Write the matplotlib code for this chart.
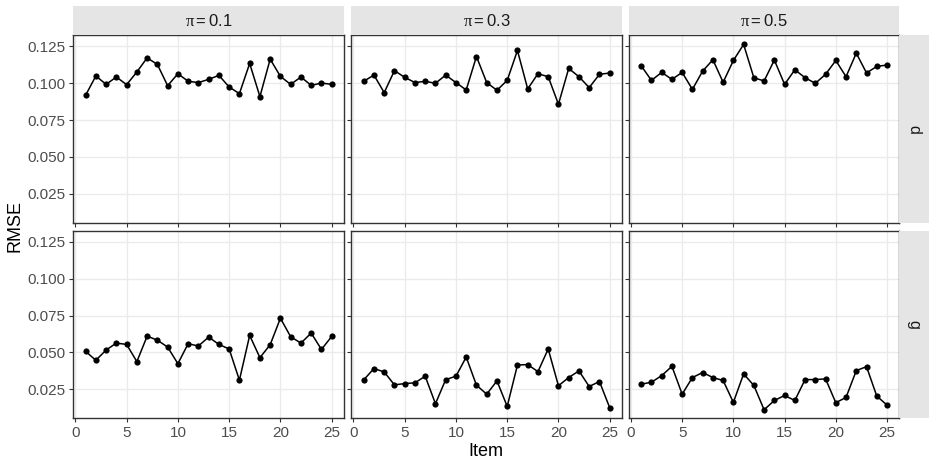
import matplotlib
matplotlib.use("Agg")
import matplotlib.pyplot as plt
import numpy as np

plt.rcParams['font.family'] = ['Liberation Sans', 'DejaVu Sans']
plt.rcParams['mathtext.fontset'] = 'custom'
plt.rcParams['mathtext.rm'] = 'Liberation Sans'
plt.rcParams['mathtext.it'] = 'Liberation Serif'
plt.rcParams['mathtext.bf'] = 'Liberation Sans:bold'

items = np.arange(1, 26)
pi_labels = [r"$\pi = 0.1$", r"$\pi = 0.3$", r"$\pi = 0.5$"]
row_labels = ["d", "g"]

# RMSE values, one list per panel
d_pi01 = [0.0919, 0.1050, 0.0993, 0.1043, 0.0991, 0.1077, 0.1173, 0.1128, 0.0984, 0.1065,
          0.1014, 0.1005, 0.1027, 0.1054, 0.0975, 0.0930, 0.1135, 0.0910, 0.1164, 0.1047,
          0.0993, 0.1043, 0.0986, 0.1002, 0.0993]
d_pi03 = [0.1014, 0.1056, 0.0937, 0.1086, 0.1041, 0.1005, 0.1014, 0.1000, 0.1056, 0.1005,
          0.0955, 0.1182, 0.1005, 0.0953, 0.1020, 0.1223, 0.0962, 0.1065, 0.1045, 0.0858,
          0.1101, 0.1045, 0.0971, 0.1061, 0.1070]
d_pi05 = [0.1119, 0.1020, 0.1074, 0.1027, 0.1074, 0.0959, 0.1083, 0.1160, 0.1007, 0.1155,
          0.1264, 0.1038, 0.1016, 0.1158, 0.0993, 0.1092, 0.1038, 0.1000, 0.1061, 0.1155,
          0.1045, 0.1205, 0.1070, 0.1115, 0.1124]
g_pi01 = [0.0507, 0.0446, 0.0516, 0.0563, 0.0554, 0.0437, 0.0610, 0.0583, 0.0536, 0.0423,
          0.0559, 0.0543, 0.0604, 0.0554, 0.0523, 0.0311, 0.0615, 0.0464, 0.0552, 0.0732,
          0.0606, 0.0563, 0.0631, 0.0520, 0.0608]
g_pi03 = [0.0313, 0.0390, 0.0367, 0.0279, 0.0288, 0.0293, 0.0338, 0.0151, 0.0315, 0.0338,
          0.0468, 0.0277, 0.0216, 0.0306, 0.0133, 0.0414, 0.0417, 0.0369, 0.0523, 0.0273,
          0.0329, 0.0374, 0.0268, 0.0302, 0.0124]
g_pi05 = [0.0284, 0.0297, 0.0342, 0.0405, 0.0216, 0.0329, 0.0363, 0.0329, 0.0309, 0.0160,
          0.0354, 0.0275, 0.0110, 0.0173, 0.0207, 0.0173, 0.0315, 0.0315, 0.0320, 0.0158,
          0.0194, 0.0376, 0.0403, 0.0203, 0.0142]

panels = [[d_pi01, d_pi03, d_pi05], [g_pi01, g_pi03, g_pi05]]

x_ticks = [0, 5, 10, 15, 20, 25]
y_ticks = [0.025, 0.050, 0.075, 0.100, 0.125]

W, H = 935, 463
fig = plt.figure(figsize=(W / 100, H / 100), dpi=100)

col_px = [(73.3, 344.0), (351.4, 622.0), (628.9, 899.3)]
row_px = [(35.0, 223.0), (230.5, 418.3)]
strip_top = 6.0
strip_right = 929.3


def frac(x0, y0, x1, y1):
    # pixel box (top-left origin) -> figure fraction rect
    return [x0 / W, (H - y1) / H, (x1 - x0) / W, (y1 - y0) / H]


for r, (y0, y1) in enumerate(row_px):
    for c, (x0, x1) in enumerate(col_px):
        ax = fig.add_axes(frac(x0, y0, x1, y1))
        ax.plot(items, panels[r][c], color='black', lw=1.1, zorder=3)
        ax.scatter(items, panels[r][c], color='black', s=20, zorder=4, linewidths=0)
        ax.set_xlim(-0.2, 26.2)
        ax.set_ylim(0.0052, 0.1328)
        ax.set_xticks(x_ticks)
        ax.set_yticks(y_ticks)
        ax.grid(True, color='#EBEBEB', lw=1.0, zorder=0)
        ax.set_axisbelow(True)
        for s in ax.spines.values():
            s.set_color('#333333')
            s.set_linewidth(1.0)
        ax.tick_params(length=2.7, width=0.8, color='#333333', labelcolor='#4D4D4D',
                       labelsize=11, pad=3.0)
        if c == 0:
            ax.set_yticklabels([f"{v:.3f}" for v in y_ticks])
        else:
            ax.tick_params(axis='y', labelleft=False)
        if r == 1:
            ax.set_xticklabels([str(v) for v in x_ticks])
        else:
            ax.tick_params(axis='x', labelbottom=False)

        # top strips
        if r == 0:
            sax = fig.add_axes(frac(x0, strip_top, x1, y0))
            sax.set_facecolor('#E5E5E5')
            sax.set_xticks([])
            sax.set_yticks([])
            for s in sax.spines.values():
                s.set_visible(False)
            sax.text(0.5, 0.5, pi_labels[c], ha='center', va='center',
                     fontsize=12, color='#1A1A1A', transform=sax.transAxes)

    # right strips
    rax = fig.add_axes(frac(col_px[-1][1], y0, strip_right, y1))
    rax.set_facecolor('#E5E5E5')
    rax.set_xticks([])
    rax.set_yticks([])
    for s in rax.spines.values():
        s.set_visible(False)
    rax.text(0.5, 0.5, row_labels[r], ha='center', va='center', rotation=-90,
             fontsize=11.5, color='#1A1A1A', transform=rax.transAxes)

fig.text(15 / W, 1 - 226 / H, "RMSE", rotation=90, ha='center', va='center', fontsize=13)
fig.text(486 / W, 1 - 451 / H, "Item", ha='center', va='center', fontsize=13)

fig.savefig("out.png", dpi=100)
